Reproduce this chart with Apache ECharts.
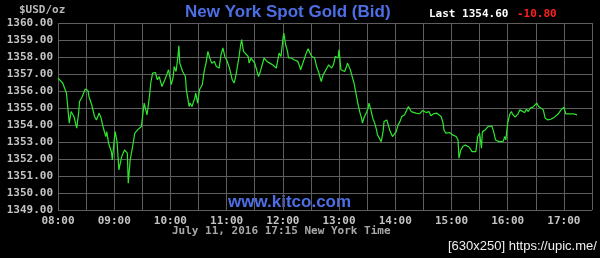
<!DOCTYPE html>
<html>
<head>
<meta charset="utf-8">
<script src="https://cdn.jsdelivr.net/npm/echarts@6/dist/echarts.min.js"></script>
<style>
html,body{margin:0;padding:0;background:#000;}
#chart{width:600px;height:258px;}
</style>
</head>
<body>
<div id="chart"></div>
<script>
// Time axis: minutes of day (08:00 = 480), grid every 30 minutes, labels on the hour
const xMin = 480, xMax = 1050, xStep = 30;
const hourLabels = ['08:00','09:00','10:00','11:00','12:00','13:00','14:00','15:00','16:00','17:00'];
const yMin = 1349, yMax = 1360, yStep = 1;

// Gold bid quote: [minutes after 08:00, price]
const seg0800 = [[0,1356.76],[5,1356.47],[7,1356.37],[9,1355.88],[10,1355.29],[12,1354.11],[14,1354.79],[16,1354.70],[17,1354.50],[20,1353.81],
  [22,1354.70],[23,1355.38],[26,1355.68],[29,1356.11],[32,1356.03],[33,1355.68],[36,1355.19],[39,1354.50],[41,1354.30],[44,1354.70],
  [46,1354.40],[48,1353.91],[51,1353.32],[52,1353.61],[54,1352.93],[57,1352.43],[58,1351.94],[60,1353.12],[61,1353.61],[63,1353.02],
  [65,1351.36],[68,1352.14],[71,1352.53],[73,1352.63],[74,1352.34],[75,1350.57],[77,1351.94],[79,1352.53],[82,1353.52],[85,1353.71],
  [89,1353.91],[92,1355.29],[95,1354.60]];
const seg0936 = [[96,1354.99],[98,1355.88],[99,1356.47],[101,1357.05],[104,1357.09],[106,1356.66],[108,1356.85],[111,1356.26],[114,1356.66],[116,1356.95],
  [118,1357.25],[121,1356.37],[123,1356.85],[124,1357.44],[126,1357.15],[128,1358.03],[129,1358.66],[130,1357.64],[132,1357.74],[133,1357.15],
  [136,1356.85],[137,1356.07],[140,1355.09],[141,1355.29],[143,1355.09],[146,1355.58],[147,1355.88],[149,1355.29],[151,1356.07],[154,1356.37],
  [156,1357.15],[158,1357.64],[160,1358.33],[162,1357.94],[164,1357.64],[167,1357.74],[169,1357.44],[172,1357.35],[174,1358.13],[176,1358.53],
  [178,1358.03],[180,1357.84],[183,1357.35],[186,1356.66],[188,1356.47]];
const seg1110 = [[190,1356.95],[193,1357.94],[195,1358.72],[196,1359.02],[198,1358.33],[200,1358.43],[203,1358.03],[204,1357.64],[206,1357.94],[208,1358.03],
  [210,1357.64],[212,1357.25],[214,1356.85],[216,1357.15],[218,1357.25],[220,1357.94],[223,1357.74],[226,1357.64],[229,1357.54],[233,1357.35],
  [235,1357.94],[236,1358.23],[238,1358.03],[240,1359.02],[241,1359.41],[243,1358.72],[245,1358.33],[246,1357.94],[249,1357.94],[252,1357.84],
  [256,1357.74],[258,1357.44],[259,1357.25],[262,1357.74],[265,1358.23],[267,1358.48],[269,1358.23],[271,1358.03],[274,1357.94],[276,1357.44],
  [278,1357.15],[281,1356.56],[283,1356.95],[285,1357.05]];
const seg1249 = [[289,1357.54],[292,1357.35],[294,1357.54],[296,1358.03],[299,1357.94],[300,1358.43],[302,1357.25],[306,1357.15],[308,1357.44],[309,1357.64],
  [312,1357.25],[314,1356.85],[316,1356.47],[318,1355.88],[320,1355.29],[322,1354.79],[324,1354.40],[325,1354.11],[327,1354.50],[329,1354.70],
  [331,1354.99],[332,1355.29],[334,1354.89],[336,1354.40],[338,1354.11],[340,1353.71],[341,1353.42],[343,1353.22],[345,1353.02],[347,1353.61],
  [348,1354.20],[351,1354.30],[353,1354.20],[354,1353.71],[357,1353.32],[359,1353.42],[361,1353.61],[363,1354.01],[365,1354.20],[367,1354.50],
  [370,1354.60],[372,1354.70],[374,1355.09],[377,1354.79],[379,1354.79],[382,1354.70]];
const seg1426 = [[386,1354.66],[389,1354.85],[391,1354.89],[393,1354.73],[396,1354.79],[398,1354.54],[401,1354.66],[404,1354.70],[406,1354.66],[409,1354.50],
  [411,1354.11],[412,1353.71],[414,1353.52],[418,1353.56],[421,1353.42],[423,1353.32],[425,1353.32],[427,1353.12],[428,1352.05],[430,1352.53],
  [432,1352.73],[435,1352.83],[437,1352.89],[439,1352.69],[442,1352.43],[444,1352.38],[446,1352.43],[448,1353.32],[450,1353.52],[452,1352.63],
  [453,1353.61],[456,1353.71],[459,1353.91],[461,1354.01],[463,1353.95],[465,1353.61],[467,1353.12],[471,1353.02],[473,1353.12],[475,1353.02],
  [477,1353.32],[478,1353.12]];
const seg1600 = [[480,1354.11],[482,1354.60],[484,1354.79],[485,1354.66],[488,1354.46],[491,1354.66],[493,1354.89],[495,1354.85],[498,1354.73],[500,1354.93],
  [502,1354.79],[504,1354.99],[507,1355.05],[509,1355.09],[511,1355.29],[513,1355.09],[515,1354.99],[518,1354.89],[520,1354.40],[523,1354.30],
  [526,1354.34],[530,1354.46],[534,1354.66],[537,1354.89],[540,1355.05],[542,1354.66],[546,1354.66],[550,1354.66],[554,1354.60]];

const lastPrice = '1354.60';
const change = '-10.80';

const seriesData = [].concat(seg0800, seg0936, seg1110, seg1249, seg1426, seg1600)
  .map(p => [xMin + p[0], p[1]]);

const mono = '"DejaVu Sans Mono", "Liberation Mono", monospace';
const sans = '"Liberation Sans", Arial, sans-serif';
const gridColor = '#5e5e5e';
const tickColor = '#c4c4c4';

const chart = echarts.init(document.getElementById('chart'), null, {renderer: 'canvas'});
chart.setOption({
  backgroundColor: '#000',
  animation: false,
  grid: {left: 58, right: 8, top: 23, bottom: 48, containLabel: false},
  xAxis: {
    type: 'value', min: xMin, max: xMax, interval: xStep,
    axisLine: {show: false}, axisTick: {show: false},
    splitLine: {show: true, lineStyle: {color: gridColor, width: 1}},
    axisLabel: {
      color: tickColor, fontFamily: mono, fontWeight: 'bold', fontSize: 11, margin: 6,
      showMinLabel: true, showMaxLabel: true,
      formatter: v => (v % 60 === 0 ? hourLabels[(v - xMin) / 60] : '')
    }
  },
  yAxis: {
    type: 'value', min: yMin, max: yMax, interval: yStep,
    axisLine: {show: false}, axisTick: {show: false},
    splitLine: {show: true, lineStyle: {color: gridColor, width: 1}},
    axisLabel: {
      color: tickColor, fontFamily: mono, fontWeight: 'bold', fontSize: 11, margin: 5,
      formatter: v => v.toFixed(2)
    }
  },
  series: [{
    type: 'line', data: seriesData, showSymbol: false, symbol: 'none',
    lineStyle: {color: '#2ee82e', width: 1.2}, silent: true
  }],
  graphic: [
    {type: 'text', left: 19, top: 5, style: {text: '$USD/oz', fill: '#b8b8b8', font: 'bold 11px ' + mono}},
    {type: 'text', left: 185, top: 4, style: {text: 'New York Spot Gold (Bid)', fill: '#4d6fe6', font: 'bold 17px ' + sans}},
    {type: 'text', left: 429, top: 9, style: {text: 'Last ' + lastPrice, fill: '#ffffff', font: 'bold 11px ' + mono}},
    {type: 'text', left: 517, top: 9, style: {text: change, fill: '#ff2020', font: 'bold 11px ' + mono}},
    {type: 'text', left: 228, top: 194, style: {text: 'www.kitco.com', fill: '#4d6fe6', font: 'bold 17px ' + sans}},
    {type: 'text', left: 172, top: 226, style: {text: 'July 11, 2016 17:15 New York Time', fill: '#a8a8a8', font: 'bold 11px ' + mono}},
    {type: 'text', left: 448, top: 240, style: {text: '[630x250] https://upic.me/', fill: '#f0f0f0', font: '13px "Liberation Sans", Arial, sans-serif'}}
  ]
});
</script>
</body>
</html>
